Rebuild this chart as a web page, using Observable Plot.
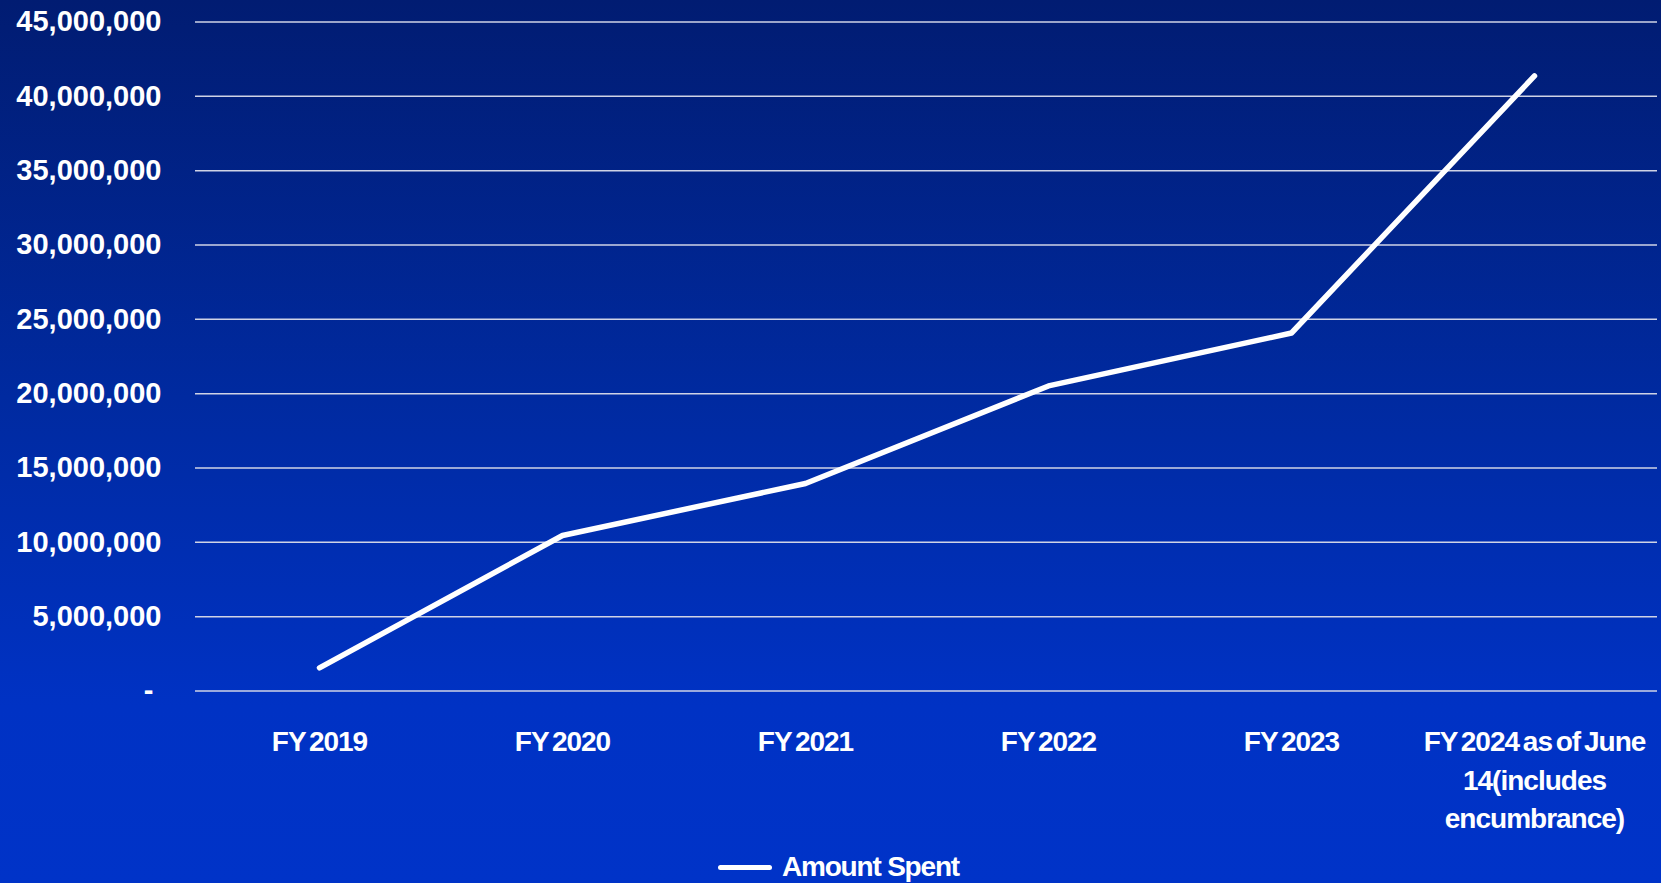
<!DOCTYPE html>
<html>
<head>
<meta charset="utf-8">
<script src="https://cdn.jsdelivr.net/npm/d3@7"></script>
<script src="https://cdn.jsdelivr.net/npm/@observablehq/plot@0.6"></script>
<style>
  html, body { margin: 0; padding: 0; width: 1661px; height: 883px; overflow: hidden; }
  body {
    background: linear-gradient(to bottom, #011c72 0%, #002aa0 45%, #0032c4 80%, #0033c8 100%);
    font-family: "Liberation Sans", Arial, sans-serif;
    position: relative;
  }
  #legend {
    position: absolute; left: 718px; top: 852px; height: 30px;
    display: flex; align-items: center; color: white;
    font-weight: bold; font-size: 28px; line-height: 30px;
    letter-spacing: -1.2px; word-spacing: 0px; white-space: nowrap;
  }
  #legend .swatch { width: 54px; height: 5px; background: white; border-radius: 3px; margin-right: 10px; }
</style>
</head>
<body>
<div id="chart"></div>
<div id="legend"><span class="swatch"></span><span>Amount Spent</span></div>
<script>
const categories = ["FY 2019", "FY 2020", "FY 2021", "FY 2022", "FY 2023", "FY 2024 as of June\n14(includes\nencumbrance)"];
const amountSpent = [1560000, 10460000, 13960000, 20520000, 24080000, 41370000];
const yTicks = [0, 5000000, 10000000, 15000000, 20000000, 25000000, 30000000, 35000000, 40000000, 45000000];
const seriesName = "Amount Spent";

const data = categories.map((c, i) => ({category: c, value: amountSpent[i], series: seriesName}));
const fmt = d3.format(",");

const chart = Plot.plot({
  width: 1661,
  height: 850,
  marginLeft: 195,
  marginRight: 4,
  marginTop: 21.5,
  marginBottom: 159.5,
  style: {background: "transparent", color: "white", fontFamily: "'Liberation Sans', Arial, sans-serif"},
  x: {type: "point", domain: categories, padding: 0.5, label: null},
  y: {domain: [0, 45000000], label: null},
  marks: [
    Plot.gridY(yTicks, {stroke: "#cfd3e6", strokeOpacity: 1, strokeWidth: 1.5}),
    Plot.axisY(yTicks, {
      tickSize: 0, tickPadding: 34,
      tickFormat: d => d === 0 ? "-\u00a0" : fmt(d),
      fontSize: 29, fontWeight: "bold", fill: "white", label: null
    }),
    Plot.axisX({
      tickSize: 0, tickPadding: 33,
      fontSize: 28, fontWeight: "bold", fill: "white", lineHeight: 1.37,
      label: null
    }),
    Plot.line(data, {x: "category", y: "value", stroke: "white", strokeWidth: 5.5, strokeLinecap: "round", strokeLinejoin: "round"})
  ]
});
document.getElementById("chart").appendChild(chart);
chart.querySelectorAll("g[aria-label='x-axis tick label'] text").forEach(t => {
  t.style.letterSpacing = "-1px";
  t.style.wordSpacing = "-3px";
});
</script>
</body>
</html>
